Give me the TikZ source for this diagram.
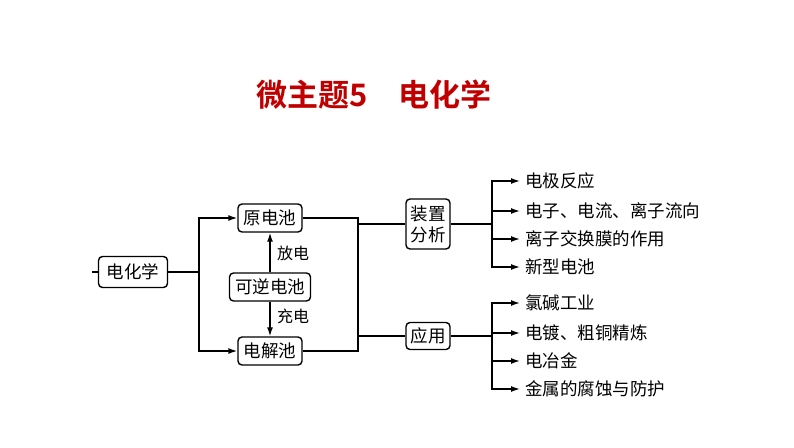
\documentclass[tikz,border=0pt]{standalone}
\usepackage{fontspec}
\newfontfamily\cjk{Noto Sans CJK SC}
\newfontfamily\cjkb{Noto Sans CJK SC Bold}
\usetikzlibrary{arrows.meta}
\definecolor{titlered}{RGB}{192,0,0}
\begin{document}
\begin{tikzpicture}[x=1pt,y=-1pt,
  box/.style={draw,rounded corners=4pt,line width=1.4pt,inner sep=0pt,font=\cjk\fontsize{17.5}{20}\selectfont,minimum height=28pt},
  item/.style={anchor=west,inner sep=0pt,font=\cjk\fontsize{17.5}{20}\selectfont},
  lbl/.style={inner sep=0pt,font=\cjk\fontsize{16}{19}\selectfont},
  ln/.style={line width=1.4pt},
  arr/.style={line width=1.4pt,-{Latex[length=9pt,width=6pt]}}]
\useasboundingbox (0,0) rectangle (794,447);
\node[font=\cjkb\fontsize{31}{34}\selectfont,text=titlered] (title) at (374,95) {微主题5\hspace{1em}电化学};
\node[box,minimum width=69pt,minimum height=31pt] (dhx) at (133,272) {电化学};
\node[box,minimum width=64pt] (ydc) at (270,218) {原电池};
\node[box,minimum width=64pt] (djc) at (270,351) {电解池};
\node[box,minimum width=81pt] (kn) at (270,287) {可逆电池};
\node[box,minimum width=44pt,minimum height=50pt,align=center,font=\cjk\fontsize{17.5}{21}\selectfont] (zz) at (428,224) {装置\\分析};
\node[box,minimum width=44pt,minimum height=27pt] (yy) at (428,336) {应用};
\node[lbl] (fd) at (293,253) {放电};
\node[lbl] (cd) at (293,316) {充电};
% left stub
\coordinate (stub) at (92,272);
\draw[ln] (stub) -- (dhx.west);
% split to cells
\coordinate (s1) at (199,272);
\draw[ln] (dhx.east) -- (s1);
\draw[arr] (s1) |- (ydc.west);
\draw[arr] (s1) |- (djc.west);
\draw[arr] (kn.north) -- (ydc.south);
\draw[arr] (kn.south) -- (djc.south|-djc.north);
% merge
\coordinate (m1) at (358,218);
\coordinate (m2) at (358,351);
\draw[ln] (ydc.east) -- (m1) -- (m2) -- (djc.east);
\draw[ln] (m1|-zz.west) -- (zz.west);
\draw[ln] (m1|-yy.west) -- (yy.west);
% right items
\node[item] (a1) at (525,181) {电极反应};
\node[item] (a2) at (525,211) {电子、电流、离子流向};
\node[item] (a3) at (525,239) {离子交换膜的作用};
\node[item] (a4) at (525,267) {新型电池};
\node[item] (b1) at (525,303) {氯碱工业};
\node[item] (b2) at (525,333) {电镀、粗铜精炼};
\node[item] (b3) at (525,361) {电冶金};
\node[item] (b4) at (525,389) {金属的腐蚀与防护};
\coordinate (ja) at (492,224);
\coordinate (jb) at (492,336);
\draw[ln] (zz.east) -- (ja);
\draw[ln] (yy.east) -- (jb);
\foreach \n in {a1,a2,a3,a4} \draw[arr] (ja) |- ([xshift=-5pt]\n.west);
\foreach \n in {b1,b2,b3,b4} \draw[arr] (jb) |- ([xshift=-5pt]\n.west);
\end{tikzpicture}
\end{document}
